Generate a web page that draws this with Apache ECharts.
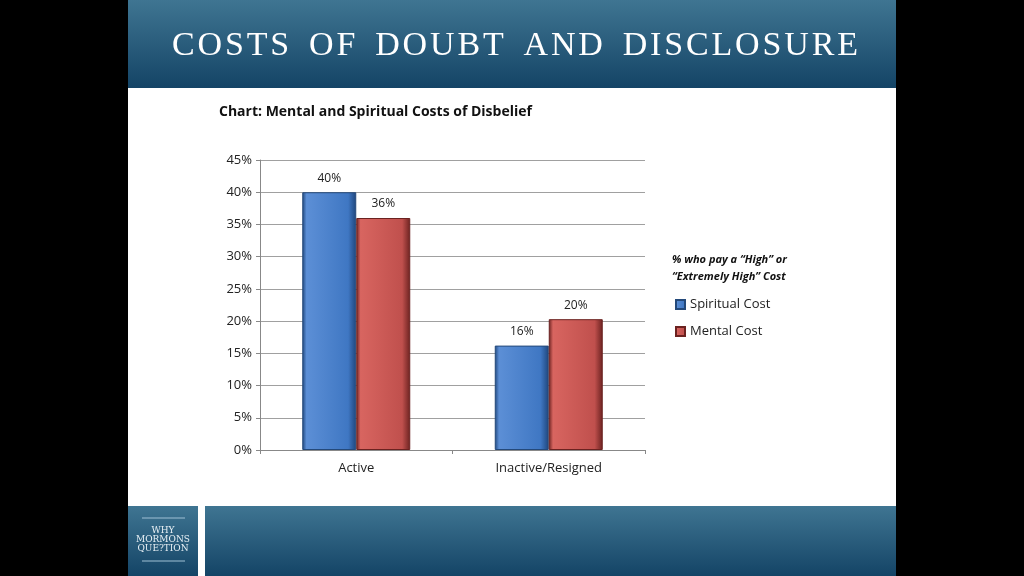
<!DOCTYPE html>
<html><head><meta charset="utf-8">
<script src="https://cdn.jsdelivr.net/npm/echarts@6/dist/echarts.min.js"></script>
<style>html,body{margin:0;padding:0;background:#000}#main{width:1024px;height:576px}</style>
</head><body><div id="main"></div>
<script>
var categories = ['Active', 'Inactive/Resigned'];
var spiritual = [40, 16.2];
var mental = [36, 20.3];
var spiritualLabels = ['40%', '16%'];
var mentalLabels = ['36%', '20%'];
var yTicks = ['0%', '5%', '10%', '15%', '20%', '25%', '30%', '35%', '40%', '45%'];

var myChart = echarts.init(document.getElementById('main'));

function barColor(light, mid, dark) {
  return new echarts.graphic.LinearGradient(0, 0, 1, 0, [
    { offset: 0, color: dark }, { offset: 0.08, color: light },
    { offset: 0.85, color: mid }, { offset: 1, color: dark }
  ]);
}
var bandGrad = new echarts.graphic.LinearGradient(0, 0, 0, 1, [
  { offset: 0, color: '#3f7592' }, { offset: 1, color: '#144466' }
]);

var option = {
  backgroundColor: '#000',
  animation: false,
  graphic: [
    { type: 'rect', shape: { x: 128, y: 0, width: 768, height: 576 }, style: { fill: '#ffffff' }, z: -10 },
    { type: 'rect', shape: { x: 128, y: 0, width: 768, height: 88 }, style: { fill: bandGrad }, z: -9 },
    { type: 'rect', shape: { x: 205, y: 506, width: 691, height: 70 }, style: { fill: bandGrad }, z: -9 },
    { type: 'rect', shape: { x: 128, y: 506, width: 70, height: 70 }, style: { fill: bandGrad }, z: -9 },
    { type: 'line', shape: { x1: 142, y1: 518, x2: 185, y2: 518 }, style: { stroke: '#9fc0d4', lineWidth: 1 } },
    { type: 'line', shape: { x1: 142, y1: 561, x2: 185, y2: 561 }, style: { stroke: '#9fc0d4', lineWidth: 1 } },
    { type: 'text', x: 163, y: 540, style: { text: 'WHY\nMORMONS\nQUE?TION', fill: '#e8f0f5', font: '9px "DejaVu Serif", serif', align: 'center', verticalAlign: 'middle', lineHeight: 9 } },
    { type: 'text', x: 515, y: 46, style: { text: 'C O S T S   O F   D O U B T   A N D   D I S C L O S U R E'.replace(/ (?! )/g, '\u200a'), fill: '#ffffff', font: '34px "Liberation Serif", serif', align: 'center', verticalAlign: 'middle' } },
    { type: 'text', x: 219, y: 112, style: { text: 'Chart: Mental and Spiritual Costs of Disbelief', fill: '#111', font: 'bold 14px "Open Sans", sans-serif', verticalAlign: 'middle' } },
    { type: 'text', x: 672, y: 268, style: { text: '% who pay a \u201cHigh\u201d or\n\u201cExtremely High\u201d Cost', fill: '#111', font: 'italic bold 11px "Open Sans", sans-serif', verticalAlign: 'middle', lineHeight: 17 } }
  ],
  legend: {
    orient: 'vertical', left: 670, top: 293, itemGap: 14, itemWidth: 9, itemHeight: 9,
    icon: 'rect', textStyle: { fontSize: 13, color: '#222', fontFamily: 'Open Sans' },
    data: ['Spiritual Cost', 'Mental Cost']
  },
  grid: { left: 260, top: 160, width: 385, height: 290 },
  xAxis: {
    type: 'category', data: categories,
    axisLine: { lineStyle: { color: '#888' } },
    axisTick: { show: true, alignWithLabel: false, length: 4, lineStyle: { color: '#888' } },
    axisLabel: { color: '#222', fontSize: 13, fontFamily: 'Open Sans', margin: 12 }
  },
  yAxis: {
    type: 'value', min: 0, max: 45, interval: 5,
    axisLine: { show: true, lineStyle: { color: '#888' } },
    axisTick: { show: true, length: 4, lineStyle: { color: '#888' } },
    splitLine: { lineStyle: { color: '#a0a0a0' } },
    axisLabel: { color: '#222', fontSize: 13, fontFamily: 'Open Sans', formatter: function (v) { return yTicks[v / 5]; } }
  },
  series: [
    {
      name: 'Spiritual Cost', type: 'bar', data: spiritual, barWidth: 54, barGap: '0%',
      itemStyle: { color: barColor('#5c8fd6', '#3f77c3', '#1f467c'), borderColor: '#24497a', borderWidth: 1 },
      label: { show: true, position: 'top', distance: 8, color: '#222', fontSize: 12, fontFamily: 'Open Sans',
        formatter: function (p) { return spiritualLabels[p.dataIndex]; } }
    },
    {
      name: 'Mental Cost', type: 'bar', data: mental, barWidth: 54,
      itemStyle: { color: barColor('#d86560', '#c0504d', '#6b2220'), borderColor: '#6b2220', borderWidth: 1 },
      label: { show: true, position: 'top', distance: 8, color: '#222', fontSize: 12, fontFamily: 'Open Sans',
        formatter: function (p) { return mentalLabels[p.dataIndex]; } }
    }
  ]
};
myChart.setOption(option);
</script></body></html>
